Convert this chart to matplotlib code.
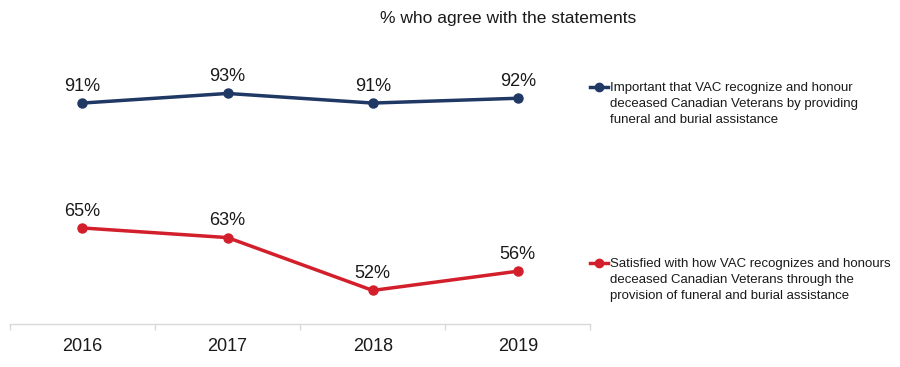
import matplotlib.pyplot as plt
from matplotlib.lines import Line2D

years = ['2016', '2017', '2018', '2019']
important = [91, 93, 91, 92]
satisfied = [65, 63, 52, 56]
labels = ['Important that VAC recognize and honour\ndeceased Canadian Veterans by providing\nfuneral and burial assistance',
          'Satisfied with how VAC recognizes and honours\ndeceased Canadian Veterans through the\nprovision of funeral and burial assistance']
title = '% who agree with the statements'

navy = '#203864'
red = '#D21F2B'

plt.rcParams['font.family'] = ['Liberation Sans', 'DejaVu Sans']

fig = plt.figure(figsize=(9, 3.67), dpi=100)
ax = fig.add_axes([0.011, 0.117, 0.645, 0.72])

x = range(len(years))
for vals, c in [(important, navy), (satisfied, red)]:
    ax.plot(x, vals, color=c, lw=2.5, marker='o', ms=6.5)
    for xi, v in zip(x, vals):
        ax.annotate(f'{v}%', (xi, v), xytext=(0, 6), textcoords='offset points',
                    ha='center', va='bottom', fontsize=13, color='#1a1a1a')

ax.set_xlim(-0.5, len(years) - 0.5)
ax.set_ylim(45, 100)
ax.set_xticks([i - 0.5 for i in range(len(years) + 1)], minor=False)
ax.set_xticklabels([])
ax.set_xticks(list(x), minor=True)
ax.set_xticklabels(years, minor=True, fontsize=13, color='#1a1a1a')
ax.tick_params(axis='x', which='major', length=4, color='#d9d9d9', width=1)
ax.tick_params(axis='x', which='minor', length=0, pad=10)
ax.set_yticks([])
for s in ['top', 'right', 'left']:
    ax.spines[s].set_visible(False)
ax.spines['bottom'].set_color('#d9d9d9')
ax.spines['bottom'].set_linewidth(1)

fig.text(0.565, 0.95, title, ha='center', va='center', fontsize=12.5, color='#1a1a1a')

# legend entries
for (ly, c, lab) in [(1 - 87 / 367, navy, labels[0]), (1 - 263 / 367, red, labels[1])]:
    fig.add_artist(Line2D([0.655, 0.675], [ly, ly], color=c, lw=2.5))
    fig.add_artist(Line2D([0.665], [ly], color=c, marker='o', ms=6))
    fig.text(0.678, ly + 0.013, lab, ha='left', va='top', fontsize=9.5,
             color='#1a1a1a', linespacing=1.45)

fig.savefig('out.png', dpi=100)
